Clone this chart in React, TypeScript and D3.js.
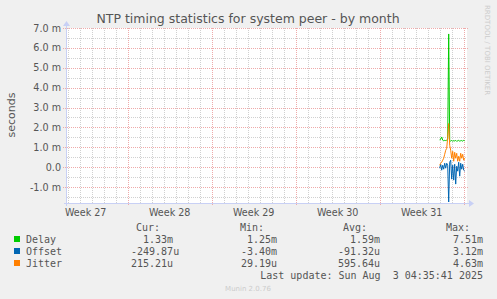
import React from "react";
import * as d3 from "d3";

// sample times (2 hour steps) and values in milliseconds
const times = [
  "2025-08-01T00:00Z", "2025-08-01T02:00Z", "2025-08-01T04:00Z", "2025-08-01T06:00Z",
  "2025-08-01T08:00Z", "2025-08-01T10:00Z", "2025-08-01T12:00Z", "2025-08-01T14:00Z",
  "2025-08-01T16:00Z", "2025-08-01T18:00Z", "2025-08-01T20:00Z", "2025-08-01T22:00Z",
  "2025-08-02T00:00Z", "2025-08-02T02:00Z", "2025-08-02T04:00Z", "2025-08-02T06:00Z",
  "2025-08-02T08:00Z", "2025-08-02T10:00Z", "2025-08-02T12:00Z", "2025-08-02T14:00Z",
  "2025-08-02T16:00Z", "2025-08-02T18:00Z", "2025-08-02T20:00Z", "2025-08-02T22:00Z",
  "2025-08-03T00:00Z", "2025-08-03T02:00Z",
];
const delay = [1.36, 1.42, 1.52, 1.36, 1.33, 1.35, 1.34, 1.36, 1.4, 6.7, 1.34, 1.31, 1.35, 1.3, 1.34, 1.32, 1.35, 1.3, 1.33, 1.35, 1.31, 1.33, 1.34, 1.31, 1.35, 1.33];
const offset = [-0.05, 0.15, -0.15, 0.1, -0.1, 0.2, -0.05, 0.2, 0.1, -1.75, 0.25, 0.35, -0.6, 0.1, -0.65, 0.15, -0.85, 0.05, -0.2, 0.25, -0.45, 0.2, -0.1, 0.15, -0.15, -0.2];
const jitter = [0.1, 0.2, 0.25, 0.35, 0.45, 0.65, 0.85, 0.95, 1.5, 2.2, 1.1, 0.85, 0.45, 0.8, 0.3, 0.75, 0.45, 0.7, 0.3, 0.55, 0.3, 0.7, 0.45, 0.65, 0.35, 0.45];

const weekLabels = ["Week 27", "Week 28", "Week 29", "Week 30", "Week 31"];
const yTicks = [-1, 0, 1, 2, 3, 4, 5, 6, 7];

const series = [
  { name: "Delay", color: "#00cc00", values: delay, cur: "1.33m", min: "1.25m", avg: "1.59m", max: "7.51m" },
  { name: "Offset", color: "#0066b3", values: offset, cur: "-249.87u", min: "-3.40m", avg: "-91.32u", max: "3.12m" },
  { name: "Jitter", color: "#ff8000", values: jitter, cur: "215.21u", min: "29.19u", avg: "595.64u", max: "4.63m" },
];

const W = 497;
const H = 299;
const plot = { left: 67, right: 467, top: 28, bottom: 203 };
const textColor = "#555";
const axisColor = "#c8d0f5";
const minorColor = "#d0d0d0";
const majorColor = "#eeaaaa";

const px = (v: number) => Math.round(v) + 0.5;

export default function App() {
  const start = new Date("2025-06-30T22:36:00Z");
  const end = new Date("2025-08-03T06:36:00Z");
  const x = d3.scaleUtc().domain([start, end]).range([plot.left, plot.right]);
  const y = d3.scaleLinear().domain([-1.8, 7.0]).range([plot.bottom, plot.top]);

  const days = d3.utcDay.range(start, end);
  const weeks = d3.utcSunday.range(start, end);
  const weekStarts = d3.utcSunday.range(d3.utcSunday.floor(start), end);
  const minorY = d3.range(-1.5, 7, 1);

  const dates = times.map((t) => new Date(t));
  const line = d3
    .line<number>()
    .x((_, i) => x(dates[i]))
    .y((d) => y(d));

  const mono = "'DejaVu Sans Mono', monospace";
  const sans = "'DejaVu Sans', sans-serif";
  const cols = [131, 235, 338, 441];
  const heads = ["Cur:", "Min:", "Avg:", "Max:"];
  const rowY = [243, 255, 267];

  return (
    <svg width={W} height={H} style={{ position: "absolute", left: 0, top: 0 }} fontFamily={sans}>
      <rect width={W} height={H} fill="#f0f0f0" />
      <rect x={plot.left} y={plot.top} width={plot.right - plot.left} height={plot.bottom - plot.top} fill="#fff" />

      {/* minor grid */}
      {days.map((d, i) => (
        <line key={"vd" + i} x1={px(x(d))} x2={px(x(d))} y1={plot.top} y2={plot.bottom} stroke={minorColor} strokeDasharray="1,1" />
      ))}
      {minorY.map((v) => (
        <line key={"hm" + v} x1={plot.left} x2={plot.right} y1={px(y(v))} y2={px(y(v))} stroke={minorColor} strokeDasharray="1,1" />
      ))}
      {/* major grid */}
      {weeks.map((d, i) => (
        <line key={"vw" + i} x1={px(x(d))} x2={px(x(d))} y1={plot.top} y2={plot.bottom + 3} stroke={majorColor} strokeDasharray="1,1" />
      ))}
      {yTicks.map((v) => (
        <line key={"hM" + v} x1={plot.left - 4} x2={plot.right + 1} y1={px(y(v))} y2={px(y(v))} stroke={majorColor} strokeDasharray="1,1" />
      ))}

      {/* axes */}
      <line x1={plot.left - 3} x2={plot.right + 3} y1={plot.bottom + 0.5} y2={plot.bottom + 0.5} stroke={axisColor} />
      <path d={`M${plot.right + 2},${plot.bottom - 3} L${plot.right + 7},${plot.bottom + 0.5} L${plot.right + 2},${plot.bottom + 4} Z`} fill={axisColor} />
      <line x1={plot.left - 0.5} x2={plot.left - 0.5} y1={plot.bottom + 3} y2={plot.top - 3} stroke={axisColor} />
      <path d={`M${plot.left - 4},${plot.top - 2} L${plot.left - 0.5},${plot.top - 7} L${plot.left + 3},${plot.top - 2} Z`} fill={axisColor} />

      {/* y tick labels */}
      {yTicks.map((v) => (
        <text key={"yl" + v} x={61} y={y(v) + 3.5} textAnchor="end" fontSize={9.6} fill={textColor}>
          {v === 0 ? "0.0" : `${v.toFixed(1)} m`}
        </text>
      ))}
      <text transform="translate(15,115) rotate(-90)" textAnchor="middle" fontSize={11} fill={textColor}>
        seconds
      </text>

      {/* week labels */}
      {weekLabels.map((lab, i) => (
        <text key={lab} x={x(d3.utcHour.offset(weekStarts[i], 84))} y={215.5} textAnchor="middle" fontSize={9.6} fill={textColor}>
          {lab}
        </text>
      ))}

      {/* data */}
      {series.map((s) => (
        <path key={s.name} d={line(s.values) || ""} fill="none" stroke={s.color} strokeWidth={1} />
      ))}

      {/* title */}
      <text x={248} y={23} textAnchor="middle" fontSize={12.5} fill={textColor}>
        NTP timing statistics for system peer - by month
      </text>
      <text transform="translate(485,5) rotate(90)" fontSize={7} fill="#cccccc">
        RRDTOOL / TOBI OETIKER
      </text>

      {/* legend */}
      <g fontFamily={mono} fontSize={10} fill={textColor} style={{ whiteSpace: "pre" }}>
        {heads.map((h, i) => (
          <text key={h} x={cols[i] + 5} y={231}>
            {h}
          </text>
        ))}
        {series.map((s, r) => (
          <g key={s.name}>
            <rect x={14} y={rowY[r] - 7} width={6} height={6} fill={s.color} />
            <text x={26} y={rowY[r]}>{s.name}</text>
            {[s.cur, s.min, s.avg, s.max].map((v, i) => (
              <text key={i} x={cols[i]} y={rowY[r]} xmlSpace="preserve">
                {v.padStart(7, " ")}
              </text>
            ))}
          </g>
        ))}
        <text x={483} y={279} textAnchor="end" xmlSpace="preserve">
          {"Last update: Sun Aug  3 04:35:41 2025"}
        </text>
      </g>
      <text x={248} y={291} textAnchor="middle" fontSize={7} fill="#cccccc">
        Munin 2.0.76
      </text>
    </svg>
  );
}
